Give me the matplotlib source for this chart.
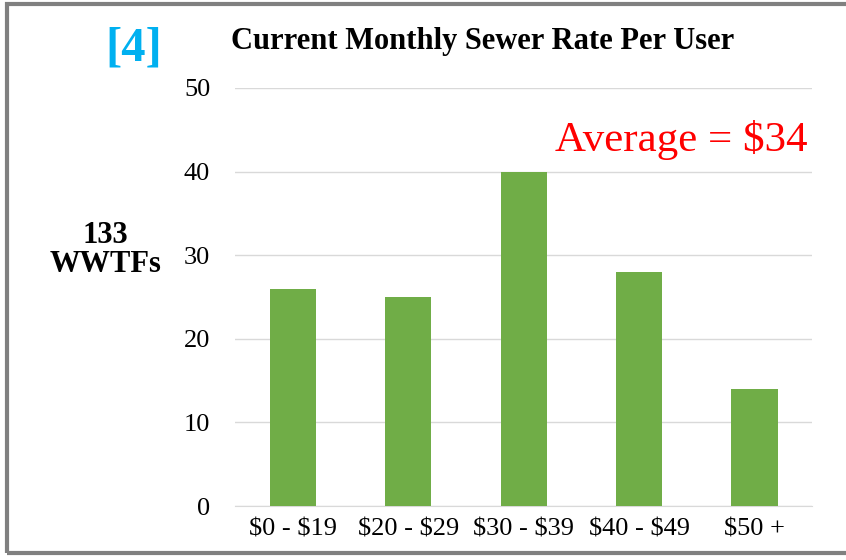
import numpy as np
import matplotlib.pyplot as plt
from matplotlib.patches import Rectangle

# %%
categories = [r'\$0 - \$19', r'\$20 - \$29', r'\$30 - \$39', r'\$40 - \$49', r'\$50 +']
counts = [26, 25, 40, 28, 14]
yticks = [0, 10, 20, 30, 40, 50]

plt.rcParams['font.family'] = ['Liberation Serif', 'DejaVu Serif']

fig = plt.figure(figsize=(8.46, 5.6), dpi=100)
ax = fig.add_axes([0.278, 0.0964, 0.682, 0.7466])

x = np.arange(len(categories))
ax.bar(x, counts, width=0.4, color='#70AD47', zorder=3)

ax.set_xlim(-0.5, len(categories) - 0.5)
ax.set_ylim(0, 50)
ax.set_yticks(yticks)
ax.set_xticks(x)
ax.set_xticklabels(categories)
ax.tick_params(axis='both', length=0, labelsize=19)
ax.tick_params(axis='y', pad=18)
ax.tick_params(axis='x', pad=9)
ax.grid(axis='y', color='#D9D9D9', linewidth=1, zorder=0)
for s in ['top', 'right', 'left']:
    ax.spines[s].set_visible(False)
ax.spines['bottom'].set_color('#D9D9D9')

fig.text(0.571, 0.925, 'Current Monthly Sewer Rate Per User', ha='center', va='center',
         fontsize=22, fontweight='bold')
fig.text(0.158, 0.914, '[4]', ha='center', va='center', fontsize=35,
         fontweight='bold', color='#00B0F0')
fig.text(0.955, 0.75, r'Average = \$34', ha='right', va='center',
         fontsize=31, color='red')
fig.text(0.125, 0.554, '133\nWWTFs', ha='center', va='center', fontsize=22,
         fontweight='bold', linespacing=1.0)

# frame around the slide
fig.add_artist(Rectangle((0.0085, 0.012), 1.1, 0.98, transform=fig.transFigure,
                         fill=False, edgecolor='#808080', linewidth=3))

fig.savefig('out.png', dpi=100)
